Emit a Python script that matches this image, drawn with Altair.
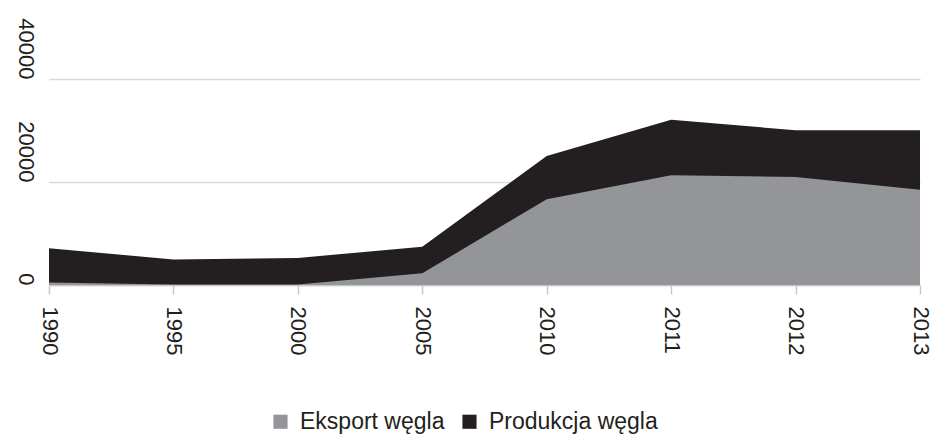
import altair as alt
import pandas as pd

years = ["1990", "1995", "2000", "2005", "2010", "2011", "2012", "2013"]
produkcja = [7150, 4950, 5250, 7450, 25050, 32100, 30050, 30050]
eksport = [500, 80, 80, 2270, 16650, 21300, 20970, 18500]

series_names = ["Eksport węgla", "Produkcja węgla"]
series_colors = ["#939598", "#231f20"]

df_p = pd.DataFrame({"rok": years, "wartosc": produkcja, "seria": series_names[1]})
df_e = pd.DataFrame({"rok": years, "wartosc": eksport, "seria": series_names[0]})

FONT = "Liberation Sans"
TXT = "#231f20"

x_enc = alt.X("rok:O", sort=years, scale=alt.Scale(padding=0),
              axis=alt.Axis(title=None, labelAngle=90, labelAlign="left",
                            labelBaseline="middle", labelPadding=12,
                            labelFont=FONT, labelFontSize=22, labelColor=TXT,
                            tickSize=9, tickColor="#c8c8c8", tickWidth=1.5,
                            domainColor="#c8c8c8", domainWidth=1.5, grid=False))
y_enc = alt.Y("wartosc:Q", scale=alt.Scale(domain=[0, 40000], nice=False),
              axis=alt.Axis(title=None, values=[0, 20000, 40000], format="d",
                            labelAngle=90, labelAlign="right", labelBaseline="top",
                            labelPadding=14, ticks=False, domain=False,
                            labelFont=FONT, labelFontSize=22, labelColor=TXT,
                            grid=True, gridColor="#d9d9d9", gridWidth=1.5))
color_enc = alt.Color("seria:N",
                      scale=alt.Scale(domain=series_names, range=series_colors),
                      legend=alt.Legend(title=None, orient="none", direction="horizontal",
                                        legendX=220, legendY=331,
                                        symbolType="square", symbolSize=200,
                                        symbolStrokeWidth=0, labelFontSize=23,
                                        labelColor=TXT, columnPadding=13,
                                        labelOffset=8, labelFont=FONT,
                                        labelLimit=300))

prod = alt.Chart(df_p).mark_area(opacity=1).encode(x=x_enc, y=y_enc, color=color_enc)
eks = alt.Chart(df_e).mark_area(opacity=1).encode(x=x_enc, y=y_enc, color=color_enc)

chart = alt.layer(prod, eks).properties(
    width=871, height=206,
    background="white",
    autosize=alt.AutoSizeParams(type="none"),
    padding={"left": 41, "top": 71, "right": 12, "bottom": 152},
).configure_view(stroke=None)

chart.save("out.html", embed_options={"renderer": "svg", "actions": False})
